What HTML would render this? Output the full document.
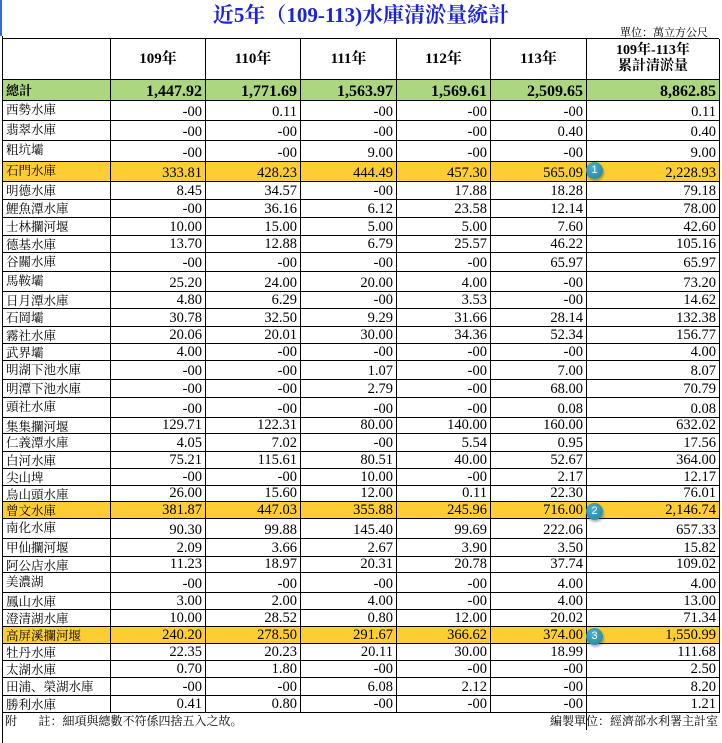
<!DOCTYPE html>
<html><head><meta charset="utf-8"><style>
body{margin:0;width:722px;height:743px;background:#fff;position:relative;overflow:hidden;font-family:"Liberation Serif","Noto Serif CJK SC",serif;}
.t{position:absolute;left:0;width:722px;top:2px;text-align:center;color:#1a22e0;font-weight:bold;font-size:21px;line-height:26px;}
.u{position:absolute;right:14px;top:26px;font-size:11px;line-height:13px;font-family:"Noto Serif CJK SC",serif;}
.r{position:absolute;left:2px;width:717px;display:grid;grid-template-columns:108px 95px 95px 96px 94px 96px 133px;border-left:1px solid #000;box-sizing:border-box;}
.r>div{border-right:1px solid #000;border-bottom:1px solid #000;box-sizing:border-box;display:flex;align-items:flex-end;justify-content:flex-end;padding-right:3px;font-size:14.5px;line-height:16px;overflow:hidden;white-space:nowrap;}
.r>div:first-child{justify-content:flex-start;align-items:flex-start;padding-left:3px;font-family:"Noto Serif CJK SC",serif;font-size:12.5px;line-height:16px;}
.h>div{justify-content:center!important;align-items:center!important;font-weight:bold;font-size:15px;padding:0!important;text-align:center;}
.g{background:#acd680;}
.g>div{font-weight:bold;font-size:16px;}
.g>div:first-child{font-size:13px;font-weight:bold;align-items:center;}
.y{background:#fdcd33;}
.b{position:absolute;width:17px;height:17px;border-radius:50%;background:radial-gradient(circle at 40% 35%,#4fb0c8,#1f7f9c);color:#fff;font-family:"Liberation Sans",sans-serif;font-size:11px;line-height:17px;text-align:center;box-shadow:1px 2px 2px rgba(0,0,0,.3);}
.f{position:absolute;top:713px;font-size:12px;line-height:16px;font-family:"Noto Serif CJK SC",serif;}
</style></head><body>
<div style="position:absolute;left:0;top:0;width:2px;height:36px;background:#2f6fd0"></div>
<div style="position:absolute;left:2px;top:36px;width:1px;height:707px;background:#000"></div>
<div class="t">近5年（109-113)水庫清淤量統計</div>
<div class="u">單位：萬立方公尺</div>
<div style="position:absolute;left:2px;top:38px;width:717px;height:1px;background:#000"></div>
<div class="r h" style="top:39px;height:41px"><div></div><div>109年</div><div>110年</div><div>111年</div><div>112年</div><div>113年</div><div style="font-size:14px;line-height:16px">109年-113年<br>累計清淤量</div></div>
<div class="r g" style="top:80px;height:21px"><div>總計</div><div>1,447.92</div><div>1,771.69</div><div>1,563.97</div><div>1,569.61</div><div>2,509.65</div><div>8,862.85</div></div>
<div class="r" style="top:101px;height:20px"><div>西勢水庫</div><div>-00</div><div>0.11</div><div>-00</div><div>-00</div><div>-00</div><div>0.11</div></div>
<div class="r" style="top:121px;height:20px"><div>翡翠水庫</div><div>-00</div><div>-00</div><div>-00</div><div>-00</div><div>0.40</div><div>0.40</div></div>
<div class="r" style="top:141px;height:21px"><div>粗坑壩</div><div>-00</div><div>-00</div><div>9.00</div><div>-00</div><div>-00</div><div>9.00</div></div>
<div class="r y" style="top:162px;height:20px"><div>石門水庫</div><div>333.81</div><div>428.23</div><div>444.49</div><div>457.30</div><div>565.09</div><div>2,228.93</div></div>
<div class="r" style="top:182px;height:18px"><div>明德水庫</div><div>8.45</div><div>34.57</div><div>-00</div><div>17.88</div><div>18.28</div><div>79.18</div></div>
<div class="r" style="top:200px;height:18px"><div>鯉魚潭水庫</div><div>-00</div><div>36.16</div><div>6.12</div><div>23.58</div><div>12.14</div><div>78.00</div></div>
<div class="r" style="top:218px;height:18px"><div>士林攔河堰</div><div>10.00</div><div>15.00</div><div>5.00</div><div>5.00</div><div>7.60</div><div>42.60</div></div>
<div class="r" style="top:236px;height:17px"><div>德基水庫</div><div>13.70</div><div>12.88</div><div>6.79</div><div>25.57</div><div>46.22</div><div>105.16</div></div>
<div class="r" style="top:253px;height:19px"><div>谷關水庫</div><div>-00</div><div>-00</div><div>-00</div><div>-00</div><div>65.97</div><div>65.97</div></div>
<div class="r" style="top:272px;height:20px"><div>馬鞍壩</div><div>25.20</div><div>24.00</div><div>20.00</div><div>4.00</div><div>-00</div><div>73.20</div></div>
<div class="r" style="top:292px;height:17px"><div>日月潭水庫</div><div>4.80</div><div>6.29</div><div>-00</div><div>3.53</div><div>-00</div><div>14.62</div></div>
<div class="r" style="top:309px;height:18px"><div>石岡壩</div><div>30.78</div><div>32.50</div><div>9.29</div><div>31.66</div><div>28.14</div><div>132.38</div></div>
<div class="r" style="top:327px;height:17px"><div>霧社水庫</div><div>20.06</div><div>20.01</div><div>30.00</div><div>34.36</div><div>52.34</div><div>156.77</div></div>
<div class="r" style="top:344px;height:17px"><div>武界壩</div><div>4.00</div><div>-00</div><div>-00</div><div>-00</div><div>-00</div><div>4.00</div></div>
<div class="r" style="top:361px;height:19px"><div>明湖下池水庫</div><div>-00</div><div>-00</div><div>1.07</div><div>-00</div><div>7.00</div><div>8.07</div></div>
<div class="r" style="top:380px;height:18px"><div>明潭下池水庫</div><div>-00</div><div>-00</div><div>2.79</div><div>-00</div><div>68.00</div><div>70.79</div></div>
<div class="r" style="top:398px;height:20px"><div>頭社水庫</div><div>-00</div><div>-00</div><div>-00</div><div>-00</div><div>0.08</div><div>0.08</div></div>
<div class="r" style="top:418px;height:16px"><div>集集攔河堰</div><div>129.71</div><div>122.31</div><div>80.00</div><div>140.00</div><div>160.00</div><div>632.02</div></div>
<div class="r" style="top:434px;height:18px"><div>仁義潭水庫</div><div>4.05</div><div>7.02</div><div>-00</div><div>5.54</div><div>0.95</div><div>17.56</div></div>
<div class="r" style="top:452px;height:17px"><div>白河水庫</div><div>75.21</div><div>115.61</div><div>80.51</div><div>40.00</div><div>52.67</div><div>364.00</div></div>
<div class="r" style="top:469px;height:17px"><div>尖山埤</div><div>-00</div><div>-00</div><div>10.00</div><div>-00</div><div>2.17</div><div>12.17</div></div>
<div class="r" style="top:486px;height:16px"><div>烏山頭水庫</div><div>26.00</div><div>15.60</div><div>12.00</div><div>0.11</div><div>22.30</div><div>76.01</div></div>
<div class="r y" style="top:502px;height:17px"><div>曾文水庫</div><div>381.87</div><div>447.03</div><div>355.88</div><div>245.96</div><div>716.00</div><div>2,146.74</div></div>
<div class="r" style="top:519px;height:20px"><div>南化水庫</div><div>90.30</div><div>99.88</div><div>145.40</div><div>99.69</div><div>222.06</div><div>657.33</div></div>
<div class="r" style="top:539px;height:18px"><div>甲仙攔河堰</div><div>2.09</div><div>3.66</div><div>2.67</div><div>3.90</div><div>3.50</div><div>15.82</div></div>
<div class="r" style="top:557px;height:16px"><div>阿公店水庫</div><div>11.23</div><div>18.97</div><div>20.31</div><div>20.78</div><div>37.74</div><div>109.02</div></div>
<div class="r" style="top:573px;height:20px"><div>美濃湖</div><div>-00</div><div>-00</div><div>-00</div><div>-00</div><div>4.00</div><div>4.00</div></div>
<div class="r" style="top:593px;height:17px"><div>鳳山水庫</div><div>3.00</div><div>2.00</div><div>4.00</div><div>-00</div><div>4.00</div><div>13.00</div></div>
<div class="r" style="top:610px;height:17px"><div>澄清湖水庫</div><div>10.00</div><div>28.52</div><div>0.80</div><div>12.00</div><div>20.02</div><div>71.34</div></div>
<div class="r y" style="top:627px;height:17px"><div>高屏溪攔河堰</div><div>240.20</div><div>278.50</div><div>291.67</div><div>366.62</div><div>374.00</div><div>1,550.99</div></div>
<div class="r" style="top:644px;height:17px"><div>牡丹水庫</div><div>22.35</div><div>20.23</div><div>20.11</div><div>30.00</div><div>18.99</div><div>111.68</div></div>
<div class="r" style="top:661px;height:17px"><div>太湖水庫</div><div>0.70</div><div>1.80</div><div>-00</div><div>-00</div><div>-00</div><div>2.50</div></div>
<div class="r" style="top:678px;height:18px"><div>田浦、榮湖水庫</div><div>-00</div><div>-00</div><div>6.08</div><div>2.12</div><div>-00</div><div>8.20</div></div>
<div class="r" style="top:696px;height:17px"><div>勝利水庫</div><div>0.41</div><div>0.80</div><div>-00</div><div>-00</div><div>-00</div><div>1.21</div></div>
<div class="b" style="left:586px;top:162px">1</div>
<div class="b" style="left:586px;top:503px">2</div>
<div class="b" style="left:586px;top:628px">3</div>
<div style="position:absolute;left:586px;top:713px;width:1px;height:17px;background:#000"></div>
<div class="f" style="left:5px">附&nbsp;&nbsp;&nbsp;&nbsp;&nbsp;&nbsp;&nbsp;註：細項與總數不符係四捨五入之故。</div>
<div class="f" style="right:4px">編製單位：經濟部水利署主計室</div>
</body></html>
